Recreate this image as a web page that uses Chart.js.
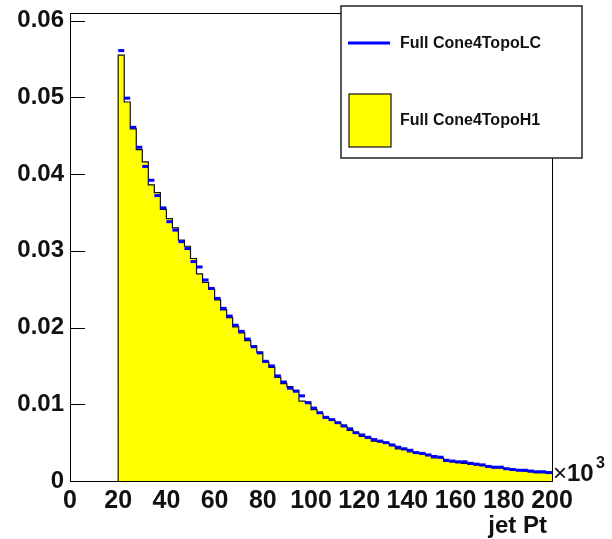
<!DOCTYPE html>
<html>
<head>
<meta charset="utf-8">
<script src="https://cdn.jsdelivr.net/npm/chart.js@4.4.1/dist/chart.umd.min.js"></script>
<style>
  body { margin: 0; background: #fff; }
  canvas { display: block; }
</style>
</head>
<body>
<canvas id="ptChart" width="612" height="539"></canvas>
<script>
// Histogram jet Pt (x10^3), bin 2.5 mulai dari 20
const binLow = 20;
const binWidth = 2.5;

// Isi bin
const lcValues = [
  0.0561, 0.0499, 0.0461, 0.0435, 0.0410, 0.0392, 0.0372, 0.0356, 0.0338, 0.0327,
  0.0312, 0.0303, 0.0286, 0.0279, 0.0262, 0.0251, 0.0238, 0.0225, 0.0215, 0.0203,
  0.0195, 0.0185, 0.0175, 0.0167, 0.0156, 0.0150, 0.0137, 0.0129, 0.0121, 0.0117,
  0.0111, 0.0102, 0.0095, 0.0089, 0.0083, 0.0080, 0.0076, 0.0072, 0.0068, 0.0063,
  0.0060, 0.0057, 0.0054, 0.0052, 0.0050, 0.0047, 0.0044, 0.0042, 0.0040, 0.0037,
  0.0036, 0.0034, 0.0032, 0.0031, 0.0027, 0.0026, 0.0025, 0.0025, 0.0023, 0.0022,
  0.0021, 0.0019, 0.0018, 0.0018, 0.0016, 0.0015, 0.0014, 0.0014, 0.0013, 0.0012,
  0.0012, 0.0011
];
const h1Values = [
  0.0555, 0.0494, 0.0459, 0.0432, 0.0416, 0.0386, 0.0376, 0.0354, 0.0342, 0.0330,
  0.0314, 0.0306, 0.0290, 0.0270, 0.0259, 0.0250, 0.0236, 0.0223, 0.0213, 0.0201,
  0.0193, 0.0183, 0.0176, 0.0168, 0.0155, 0.0148, 0.0135, 0.0127, 0.0123, 0.0118,
  0.0104, 0.0103, 0.0093, 0.0088, 0.0082, 0.0079, 0.0075, 0.0071, 0.0066, 0.0062,
  0.0058, 0.0056, 0.0052, 0.0051, 0.0049, 0.0046, 0.0042, 0.0041, 0.0038, 0.0036,
  0.0035, 0.0033, 0.0030, 0.0030, 0.0026, 0.0025, 0.0024, 0.0023, 0.0022, 0.0021,
  0.0020, 0.0018, 0.0017, 0.0017, 0.0015, 0.0014, 0.0014, 0.0013, 0.0012, 0.0011,
  0.0011, 0.0010
];

const xTickValues = [0, 20, 40, 60, 80, 100, 120, 140, 160, 180, 200];
const yTickValues = [0, 0.01, 0.02, 0.03, 0.04, 0.05, 0.06];
const legendLabels = ['Full Cone4TopoLC', 'Full Cone4TopoH1'];
const xTitle = 'jet Pt';

const FONT = '"Liberation Sans", Arial, sans-serif';

document.addEventListener('DOMContentLoaded', function () {
  const ctx = document.getElementById('ptChart').getContext('2d');

  // Titik tepi kiri tiap bin untuk garis bertangga (H1)
  const h1Points = [{ x: binLow, y: 0 }];
  h1Values.forEach((v, i) => {
    h1Points.push({ x: binLow + i * binWidth, y: v });
  });
  h1Points.push({ x: binLow + h1Values.length * binWidth, y: h1Values[h1Values.length - 1] });

  // Titik tengah bin untuk LC
  const lcPoints = lcValues.map((v, i) => ({ x: binLow + (i + 0.5) * binWidth, y: v }));

  // Setengah lebar bin dalam piksel
  function halfBin(context) {
    const s = context.chart.scales.x;
    return (s.getPixelForValue(binWidth) - s.getPixelForValue(0)) / 2;
  }

  // Bingkai, tick, legenda dan judul sumbu ala ROOT
  const rootStyle = {
    id: 'rootStyle',
    afterDraw(chart) {
      const c = chart.ctx;
      const a = chart.chartArea;
      const yScale = chart.scales.y;
      c.save();

      // bingkai
      c.strokeStyle = '#000';
      c.lineWidth = 1;
      c.strokeRect(a.left + 0.5, a.top + 0.5, a.right - a.left, a.bottom - a.top);

      // tick y di dalam bingkai
      yTickValues.forEach(v => {
        const y = Math.round(yScale.getPixelForValue(v)) + 0.5;
        c.beginPath();
        c.moveTo(a.left, y);
        c.lineTo(a.left + 15, y);
        c.stroke();
      });

      // legenda
      const lx = 341, ly = 6, lw = 241, lh = 152;
      c.fillStyle = '#fff';
      c.fillRect(lx, ly, lw, lh);
      c.strokeStyle = '#222';
      c.lineWidth = 1.5;
      c.strokeRect(lx, ly, lw, lh);

      c.strokeStyle = '#0000ff';
      c.lineWidth = 3;
      c.beginPath();
      c.moveTo(348, 43);
      c.lineTo(390, 43);
      c.stroke();

      c.fillStyle = '#ffff00';
      c.fillRect(349, 94, 42, 53);
      c.strokeStyle = '#111';
      c.lineWidth = 1.2;
      c.strokeRect(349, 94, 42, 53);

      c.fillStyle = '#111';
      c.font = 'bold 16px ' + FONT;
      c.textBaseline = 'middle';
      c.textAlign = 'left';
      c.fillText(legendLabels[0], 400, 44);
      c.fillText(legendLabels[1], 400, 121);

      // judul sumbu x dan faktor skala
      c.font = 'bold 24px ' + FONT;
      c.textAlign = 'right';
      c.textBaseline = 'alphabetic';
      c.fillText(xTitle, 547, 533);

      c.textAlign = 'left';
      c.font = '24px ' + FONT;
      c.fillText('\u00d7', 553, 481);
      c.font = 'bold 24px ' + FONT;
      c.fillText('10', 567, 481);
      c.font = 'bold 16px ' + FONT;
      c.fillText('3', 596, 468);

      c.restore();
    }
  };

  new Chart(ctx, {
    type: 'line',
    data: {
      datasets: [
        {
          label: legendLabels[0],
          data: lcPoints,
          showLine: false,
          pointStyle: 'line',
          pointRadius: halfBin,
          pointBorderWidth: 3,
          pointBorderColor: '#0000ff',
          pointBackgroundColor: '#0000ff',
          order: 0
        },
        {
          label: legendLabels[1],
          data: h1Points,
          stepped: true,
          fill: 'origin',
          backgroundColor: '#ffff00',
          borderColor: '#111',
          borderWidth: 1.2,
          pointRadius: 0,
          tension: 0,
          order: 1
        }
      ]
    },
    options: {
      responsive: false,
      animation: false,
      events: [],
      layout: { padding: { top: 13, right: 60, left: 0, bottom: 0 } },
      plugins: {
        legend: { display: false },
        tooltip: { enabled: false }
      },
      scales: {
        x: {
          type: 'linear',
          min: 0,
          max: 200,
          grid: { display: false, drawTicks: false },
          border: { display: false },
          afterFit: scale => {
            scale.height = 58;
            scale.paddingLeft = 0;
            scale.paddingRight = 0;
          },
          afterBuildTicks: scale => { scale.ticks = xTickValues.map(v => ({ value: v })); },
          ticks: {
            autoSkip: false,
            maxRotation: 0,
            padding: 5,
            color: '#111',
            font: { family: FONT, size: 25, weight: 'bold' },
            callback: v => String(v)
          }
        },
        y: {
          type: 'linear',
          min: 0,
          max: 0.061,
          grid: { display: false, drawTicks: false },
          border: { display: false },
          afterFit: scale => {
            scale.width = 70;
            scale.paddingTop = 0;
            scale.paddingBottom = 0;
          },
          afterBuildTicks: scale => { scale.ticks = yTickValues.map(v => ({ value: v })); },
          ticks: {
            padding: 6,
            color: '#111',
            font: { family: FONT, size: 24, weight: 'bold' },
            callback: v => (v === 0 ? '0' : v.toFixed(2))
          }
        }
      }
    },
    plugins: [rootStyle]
  });
});
</script>
</body>
</html>
